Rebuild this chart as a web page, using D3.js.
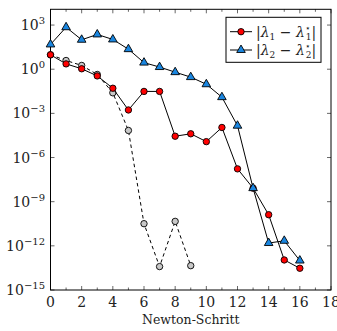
<!DOCTYPE html>
<html><head><meta charset="utf-8">
<script src="https://cdn.jsdelivr.net/npm/d3@7"></script>
<style>body{margin:0;background:#fff}svg{display:block}svg text{font-family:'DejaVu Serif','Liberation Serif','Times New Roman',serif !important}</style>
</head><body>
<svg id="c" width="337" height="331"></svg>
<script>
const steps = [0,1,2,3,4,5,6,7,8,9,10,11,12,13,14,15,16];
const lambda1 = [9.5,2.3,1.07,0.35,0.051,1.7e-3,0.031,0.031,2.8e-5,4.1e-5,1.2e-5,1.1e-4,1.7e-7,8.3e-9,1.3e-10,1.1e-13,3.0e-14];
const lambda2 = [48,710,100,230,105,23,2.8,1.4,0.63,0.29,0.095,0.0126,1.45e-4,8.3e-9,1.55e-12,2.2e-12,1.0e-13];
const stepsRef = [0,1,2,3,4,5,6,7,8,9];
const reference = [9.5,3.9,1.8,0.44,0.025,6.9e-5,3.2e-11,3.9e-14,4.6e-11,4.5e-14];
const xTicks = [0,2,4,6,8,10,12,14,16,18];
const yTickExp = [3,0,-3,-6,-9,-12,-15];
const xLabel = "Newton-Schritt";

const L=50.5,R=331,T=9.3,B=290;
const svg=d3.select("#c");
const x=d3.scaleLinear().domain([0,18]).range([L,R]);
const y=d3.scaleLog().domain([1e-15,Math.pow(10,4.07)]).range([B,T]);

const g=svg.append("g");
const tk=g.append("g").attr("stroke","#000").attr("stroke-width",0.6);
d3.range(0,19).forEach(v=>{
  const len = v%2===0?4:2.5;
  tk.append("line").attr("x1",x(v)).attr("x2",x(v)).attr("y1",B).attr("y2",B-len);
  tk.append("line").attr("x1",x(v)).attr("x2",x(v)).attr("y1",T).attr("y2",T+len);
});
yTickExp.forEach(e=>{
  const yy=y(Math.pow(10,e));
  tk.append("line").attr("x1",L).attr("x2",L+4).attr("y1",yy).attr("y2",yy);
  tk.append("line").attr("x1",R).attr("x2",R-4).attr("y1",yy).attr("y2",yy);
});
g.append("rect").attr("x",L).attr("y",T).attr("width",R-L).attr("height",B-T)
 .attr("fill","none").attr("stroke","#000").attr("stroke-width",1);

xTicks.forEach(v=>{
  g.append("text").attr("x",x(v)).attr("y",307).attr("text-anchor","middle")
   .attr("font-size",14).attr("fill","#222").text(v);
});
yTickExp.forEach(e=>{
  const t=g.append("text").attr("x",45).attr("y",y(Math.pow(10,e))+5).attr("text-anchor","end").attr("font-size",14).attr("fill","#222");
  t.append("tspan").text("10");
  t.append("tspan").attr("dy",-6).attr("font-size",10).text(String(e).replace("-","\u2212"));
});
g.append("text").attr("x",(L+R)/2).attr("y",324).attr("text-anchor","middle").attr("font-size",12.5).attr("fill","#222").text(xLabel);

const line=d3.line().x(d=>x(d[0])).y(d=>y(d[1]));
const tri=d3.symbol().type(d3.symbolTriangle).size(32);

const refD=stepsRef.map((s,i)=>[s,reference[i]]);
g.append("path").attr("d",line(refD)).attr("fill","none").attr("stroke","#000").attr("stroke-width",1).attr("stroke-dasharray","3.5,3");
g.selectAll(".gc").data(refD).enter().append("circle").attr("cx",d=>x(d[0])).attr("cy",d=>y(d[1])).attr("r",3.2)
 .attr("fill","#c8c8c8").attr("stroke","#000").attr("stroke-width",0.9);

const d1=steps.map((s,i)=>[s,lambda1[i]]);
g.append("path").attr("d",line(d1)).attr("fill","none").attr("stroke","#000").attr("stroke-width",1);
g.selectAll(".rc").data(d1).enter().append("circle").attr("cx",d=>x(d[0])).attr("cy",d=>y(d[1])).attr("r",3.2)
 .attr("fill","#ff0000").attr("stroke","#000").attr("stroke-width",0.9);

const d2=steps.map((s,i)=>[s,lambda2[i]]);
g.append("path").attr("d",line(d2)).attr("fill","none").attr("stroke","#000").attr("stroke-width",1);
g.selectAll(".bt").data(d2).enter().append("path").attr("d",tri).attr("transform",d=>`translate(${x(d[0])},${y(d[1])})`)
 .attr("fill","#1a86e0").attr("stroke","#000").attr("stroke-width",0.9);

const lg=g.append("g");
lg.append("rect").attr("x",226).attr("y",17.3).attr("width",95).attr("height",45).attr("fill","#fff").attr("stroke","#000").attr("stroke-width",1);
const rows=[{sub:"1",y:31.7,m:"c"},{sub:"2",y:50,m:"t"}];
rows.forEach(r=>{
  lg.append("line").attr("x1",230).attr("x2",252).attr("y1",r.y).attr("y2",r.y).attr("stroke","#000").attr("stroke-width",1);
  if(r.m==="c") lg.append("circle").attr("cx",241).attr("cy",r.y).attr("r",3.2).attr("fill","#ff0000").attr("stroke","#000").attr("stroke-width",0.9);
  else lg.append("path").attr("d",tri).attr("transform",`translate(241,${r.y})`).attr("fill","#1a86e0").attr("stroke","#000").attr("stroke-width",0.9);
  const t=lg.append("text").attr("x",256).attr("y",r.y+5).attr("font-size",14).attr("fill","#222");
  t.append("tspan").text("|");
  t.append("tspan").attr("font-style","italic").text("λ");
  t.append("tspan").attr("font-size",9).attr("dy",3).text(r.sub);
  t.append("tspan").attr("dy",-3).text(" \u2212 ");
  t.append("tspan").attr("font-style","italic").text("λ");
  t.append("tspan").attr("font-size",9).attr("dy",-6).text("\u22c6");
  t.append("tspan").attr("font-size",9).attr("dy",9).attr("dx",-5).text(r.sub);
  t.append("tspan").attr("dy",-3).text("|");
});
</script>
</body></html>
